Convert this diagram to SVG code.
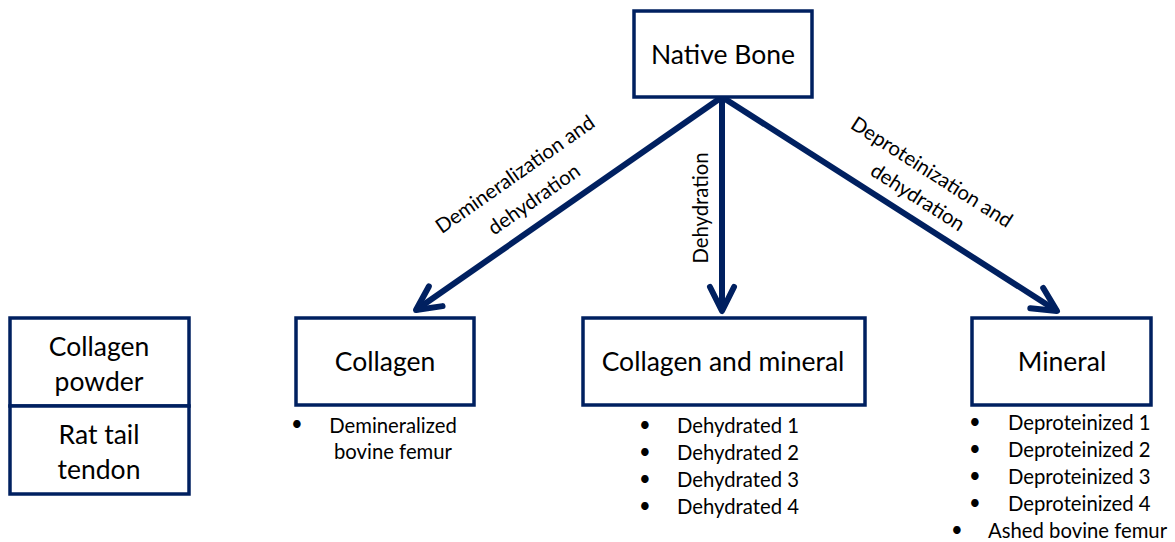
<svg xmlns="http://www.w3.org/2000/svg" width="1175" height="542" viewBox="0 0 1175 542">
<style>
.box{fill:#fff;stroke:#002060;stroke-width:3.5}
.t{font-family:Lato,"Open Sans","Liberation Sans",sans-serif;fill:#000}
.big{font-size:26.5px;text-anchor:middle}
.sm{font-size:20.3px}
.mid{text-anchor:middle}
.conn{stroke:#002060;stroke-width:6;fill:none;marker-end:url(#ah)}
</style>
<defs>
<marker id="ah" markerUnits="userSpaceOnUse" markerWidth="40" markerHeight="40" viewBox="-30 -20 40 40" refX="0" refY="0" orient="auto">
<path d="M-24,-12 L0,0 L-24,12" fill="none" stroke="#002060" stroke-width="6" stroke-linejoin="round" stroke-linecap="round"/>
</marker>
</defs>
<g id="connectors">
<line class="conn" x1="722" y1="97" x2="416" y2="310"/>
<line class="conn" x1="722" y1="97" x2="722" y2="311"/>
<line class="conn" x1="722" y1="97" x2="1057" y2="311"/>
<text class="t sm mid" transform="translate(519,180) rotate(-35)">Demineralization and</text>
<text class="t sm mid" transform="translate(538,205) rotate(-35)">dehydration</text>
<text class="t sm mid" transform="translate(708,208) rotate(-90)">Dehydration</text>
<text class="t sm mid" transform="translate(928,178) rotate(32.6)">Deproteinization and</text>
<text class="t sm mid" transform="translate(914,203) rotate(32.6)">dehydration</text>
</g>
<g id="native-bone">
<rect class="box" x="634" y="11" width="178" height="86"/>
<text class="t big" x="723" y="64">Native Bone</text>
</g>
<g id="collagen">
<rect class="box" x="296" y="318" width="178" height="87"/>
<text class="t big" x="385" y="371">Collagen</text>
<text class="t sm" x="291" y="431">•</text>
<text class="t sm mid" x="393" y="433">Demineralized</text>
<text class="t sm mid" x="393" y="459">bovine femur</text>
</g>
<g id="collagen-mineral">
<rect class="box" x="583" y="318" width="282" height="87"/>
<text class="t big" x="723" y="371">Collagen and mineral</text>
<text class="t sm" x="639" y="432">•</text>
<text class="t sm" x="677" y="433">Dehydrated 1</text>
<text class="t sm" x="639" y="459">•</text>
<text class="t sm" x="677" y="460">Dehydrated 2</text>
<text class="t sm" x="639" y="486">•</text>
<text class="t sm" x="677" y="487">Dehydrated 3</text>
<text class="t sm" x="639" y="513">•</text>
<text class="t sm" x="677" y="514">Dehydrated 4</text>
</g>
<g id="mineral">
<rect class="box" x="972" y="318" width="179" height="87"/>
<text class="t big" x="1062" y="371">Mineral</text>
<text class="t sm" x="969" y="429">•</text>
<text class="t sm" x="1008" y="430">Deproteinized 1</text>
<text class="t sm" x="969" y="456">•</text>
<text class="t sm" x="1008" y="457">Deproteinized 2</text>
<text class="t sm" x="969" y="483">•</text>
<text class="t sm" x="1008" y="484">Deproteinized 3</text>
<text class="t sm" x="969" y="510">•</text>
<text class="t sm" x="1008" y="511">Deproteinized 4</text>
<text class="t sm" x="951" y="537">•</text>
<text class="t sm" x="988" y="538">Ashed bovine femur</text>
</g>
<g id="collagen-powder">
<rect class="box" x="10" y="318" width="179" height="88"/>
<text class="t big" x="99" y="356">Collagen</text>
<text class="t big" x="99" y="391">powder</text>
</g>
<g id="rat-tail-tendon">
<rect class="box" x="10" y="406" width="179" height="88"/>
<text class="t big" x="99" y="444">Rat tail</text>
<text class="t big" x="99" y="479">tendon</text>
</g>
</svg>
